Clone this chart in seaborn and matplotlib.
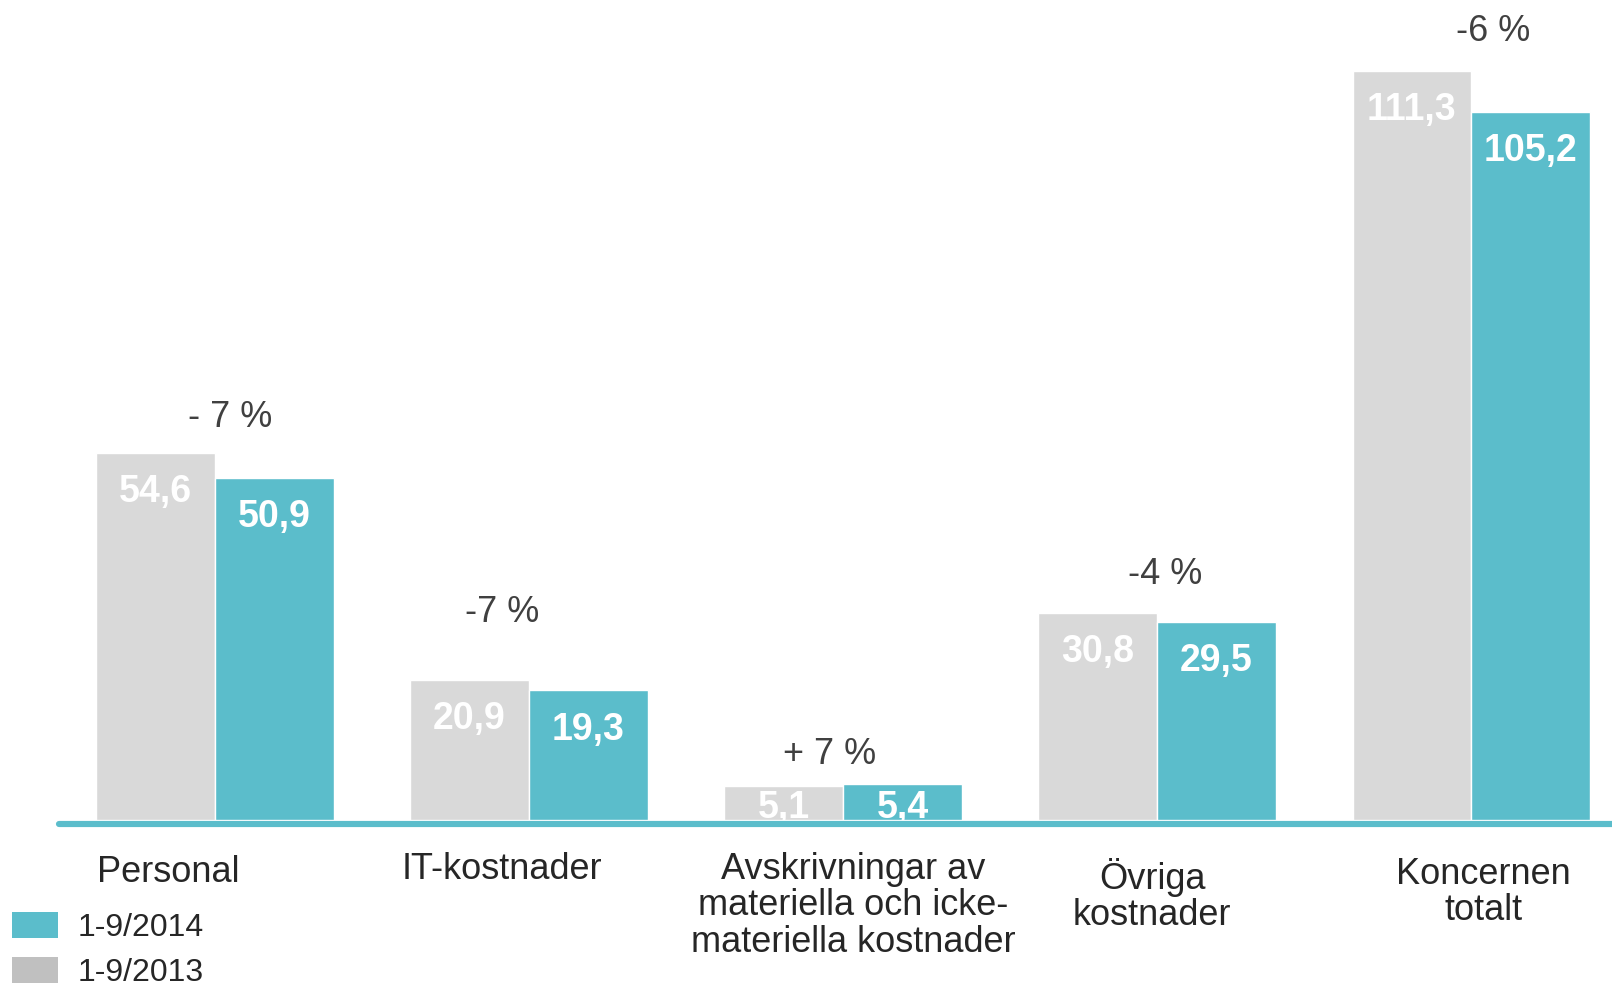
import pandas as pd
import numpy as np
import seaborn as sns
import matplotlib.pyplot as plt
from matplotlib.patches import Patch

sns.set_theme(style="white")
plt.rcParams['font.family'] = ['Liberation Sans', 'DejaVu Sans']

kategorier = ['Personal', 'IT-kostnader', 'Avskrivningar av\nmateriella och icke-\nmateriella kostnader',
              'Övriga\nkostnader', 'Koncernen\ntotalt']
varden_2013 = [54.6, 20.9, 5.1, 30.8, 111.3]
varden_2014 = [50.9, 19.3, 5.4, 29.5, 105.2]
forandring = ['- 7 %', '-7 %', '+ 7 %', '-4 %', '-6 %']
perioder = ['1-9/2013', '1-9/2014']

# layout measured on a 1568x959 view of the target
W0, H0 = 1568, 959
S = 1612 / W0
kat_dx = [-0.15, -0.085, 0.033, -0.016, 0.04]
kat_dy = [51, 48, 83, 73, 70]
pct_dx = [0.05, -0.085, -0.043, 0.026, 0.069]
pct_dy = [34, 65, 31, 37, 38]

teal = '#5bbdcb'
gray = '#d9d9d9'
legend_gray = '#c0c0c0'
textcol = '#404040'

df = pd.DataFrame({
    'kategori': kategorier * 2,
    'period': [perioder[0]] * 5 + [perioder[1]] * 5,
    'varde': varden_2013 + varden_2014,
})

fig = plt.figure(figsize=(16.12, 9.86), dpi=100)
ax = fig.add_axes([57 / W0, 1 - 798 / H0, 1511 / W0, 798 / H0])

sns.barplot(data=df, x='kategori', y='varde', hue='period', hue_order=perioder,
            palette=[gray, teal], width=0.756, gap=0, dodge=True, saturation=1,
            order=kategorier, ax=ax, legend=False)

ax.set_xlim(-0.4975, 4.448)
ax.set_ylim(0, 121.8)
ax.set_axis_off()

px2pt = 0.72 * S
ax.axhline(-0.46, color=teal, lw=6 * px2pt, clip_on=False, zorder=5)

# value labels inside bars
for i in range(len(kategorier)):
    for j, vals in enumerate([varden_2013, varden_2014]):
        x = i + (j - 0.5) * 0.378
        y = max(vals[i] - 5.8, 1.8)
        ax.text(x, y, f"{vals[i]:.1f}".replace('.', ','), ha='center', va='center',
                color='white', fontsize=27, fontweight='bold', zorder=4)

    ax.annotate(forandring[i], xy=(i + pct_dx[i], varden_2013[i]), xytext=(0, pct_dy[i] * px2pt),
                textcoords='offset points', ha='center', va='center', fontsize=26,
                color=textcol, annotation_clip=False)

    ax.annotate(kategorier[i], xy=(i + kat_dx[i], 0), xytext=(0, -kat_dy[i] * px2pt),
                textcoords='offset points', ha='center', va='center', fontsize=26,
                color='#262626', linespacing=1.05, multialignment='center',
                annotation_clip=False)

handles = [Patch(facecolor=teal, edgecolor='none'), Patch(facecolor=legend_gray, edgecolor='none')]
fig.legend(handles, [perioder[1], perioder[0]], loc='upper left',
           bbox_to_anchor=(12 / W0, 1 - 887 / H0), frameon=False, fontsize=23,
           handlelength=1.44, handleheight=0.9, handletextpad=0.6, labelspacing=0.42,
           borderpad=0, borderaxespad=0, labelcolor='#262626')

fig.savefig('out.png', dpi=100)
